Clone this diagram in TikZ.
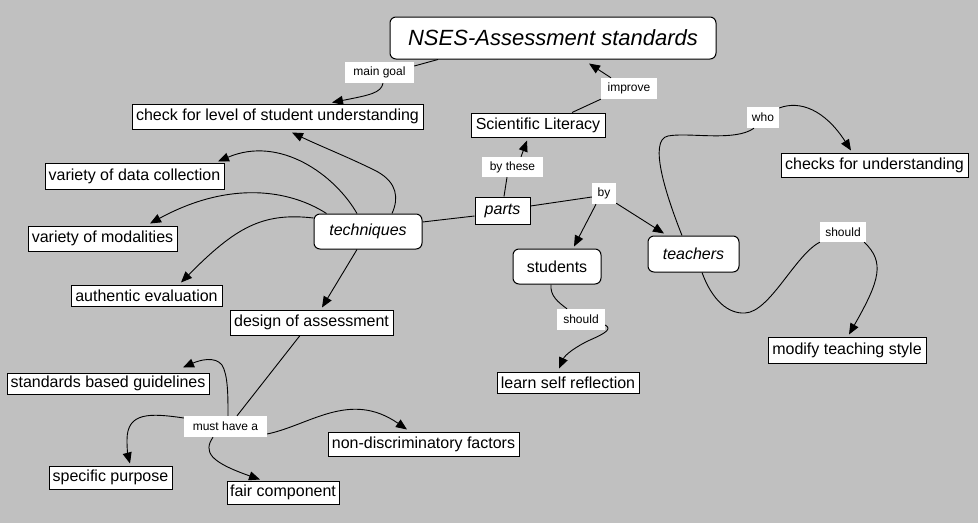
\documentclass[tikz,border=0pt]{standalone}
\usepackage{fontspec}
\setmainfont{Liberation Sans}
\usetikzlibrary{arrows.meta,calc}
\definecolor{bg}{HTML}{C0C0C0}
\begin{document}
\begin{tikzpicture}[x=1pt,y=-1pt,
  box/.style={draw=black, fill=white, line width=1pt, inner sep=0pt, font=\fontsize{16}{19}\selectfont},
  rbox/.style={box, rounded corners=6pt},
  ibox/.style={font=\fontsize{16}{19}\selectfont\itshape},
  lbl/.style={fill=white, inner sep=0pt, font=\fontsize{12}{14}\selectfont},
  link/.style={line width=0.9pt, draw=black},
  arr/.style={link, -{Triangle[length=11pt,width=9pt]}}]
\fill[bg] (0,0) rectangle (978,523);
\useasboundingbox (0,0) rectangle (978,523);
% concepts
\node[rbox, font=\fontsize{22}{26}\selectfont\itshape, minimum width=326pt, minimum height=42pt] (nses) at (553,38) {NSES-Assessment standards};
\node[box, minimum width=291pt, minimum height=25pt] (check) at (277.5,116.5) {check for level of student understanding};
\node[box, minimum width=134pt, minimum height=24pt] (sci) at (538,125) {Scientific Literacy};
\node[box, ibox, minimum width=55pt, minimum height=27pt] (parts) at (502.5,210.5) {parts};
\node[rbox, ibox, minimum width=108pt, minimum height=35pt] (tech) at (368,231.5) {techniques};
\node[rbox, minimum width=88pt, minimum height=35pt] (students) at (557,266.5) {students};
\node[rbox, ibox, minimum width=91pt, minimum height=36pt] (teachers) at (693.5,254) {teachers};
\node[box, minimum width=142pt, minimum height=21pt] (learn) at (568,382.5) {learn self reflection};
\node[box, minimum width=187pt, minimum height=24pt] (checks) at (874.5,165) {checks for understanding};
\node[box, minimum width=158pt, minimum height=26pt] (modify) at (847,350) {modify teaching style};
\node[box, minimum width=179pt, minimum height=26pt] (vdata) at (134.5,176) {variety of data collection};
\node[box, minimum width=149pt, minimum height=25pt] (vmod) at (102.5,238.5) {variety of modalities};
\node[box, minimum width=151pt, minimum height=21pt] (auth) at (146.5,295.5) {authentic evaluation};
\node[box, minimum width=163pt, minimum height=25pt] (design) at (311.5,322.5) {design of assessment};
\node[box, minimum width=202pt, minimum height=21pt] (stdg) at (108,383.5) {standards based guidelines};
\node[box, minimum width=123pt, minimum height=23pt] (specific) at (110.5,477.5) {specific purpose};
\node[box, minimum width=112pt, minimum height=23pt] (fair) at (283,492.5) {fair component};
\node[box, minimum width=191pt, minimum height=24pt] (nondisc) at (423.5,444) {non-discriminatory factors};
% labels
\node[lbl, minimum width=69pt, minimum height=21pt] (maingoal) at (379.5,72.5) {main goal};
\node[lbl, minimum width=56pt, minimum height=21pt] (improve) at (629,88.5) {improve};
\node[lbl, minimum width=61pt, minimum height=20pt] (bythese) at (512.5,167) {by these};
\node[lbl, minimum width=24pt, minimum height=21pt] (by) at (604,193.5) {by};
\node[lbl, minimum width=48pt, minimum height=21pt] (should1) at (581,319.5) {should};
\node[lbl, minimum width=32pt, minimum height=21pt] (who) at (763,117.5) {who};
\node[lbl, minimum width=46pt, minimum height=20pt] (should2) at (843,232) {should};
\node[lbl, minimum width=83pt, minimum height=21pt] (musthave) at (225.5,426.5) {must have a};
% connectors
\draw[link] ($(nses.south)+(-115,0)$) -- ($(maingoal.east)+(0,-6.5)$);
\draw[arr] ($(maingoal.south)+(3.5,0)$) .. controls (381,93) and (370,95) .. ($(check.north)+(54.5,-1)$);
\draw[link] ($(sci.north)+(34,0)$) -- (improve.south west);
\draw[arr] ($(improve.north)+(-18,0)$) -- ($(nses.south)+(36,4)$);
\draw[link] ($(parts.north)+(1.5,0)$) -- ($(bythese.south)+(-5.5,0)$);
\draw[arr] ($(bythese.north)+(8.5,0)$) -- ($(sci.south)+(-11,3)$);
\draw[link] ($(tech.east)+(0,-9.5)$) -- ($(parts.west)+(0,5.5)$);
\draw[link] ($(parts.east)+(0,-4.5)$) -- ($(by.west)+(0,3.5)$);
\draw[arr] ($(by.south)+(-8,0)$) -- ($(students.north)+(17,-2)$);
\draw[arr] ($(by.south east)+(0,-1)$) -- ($(teachers.north)+(-29.5,-2)$);
\draw[link] ($(students.south)+(-6,0)$) .. controls (550,296) and (558,302) .. ($(should1.north)+(-14,0)$);
\draw[arr] ($(should1.east)+(0,5.5)$) .. controls (612,329) and (606,333) .. (590,340) .. controls (575,347) and (565,355) .. ($(learn.north)+(-9,-3)$);
\draw[link] ($(teachers.north)+(-11.5,0)$) .. controls (666,195) and (648,140) .. (668,136) .. controls (688,132) and (735,142) .. ($(who.south)+(-9,0)$);
\draw[arr] ($(who.east)+(0,-9.5)$) .. controls (800,100) and (825,110) .. ($(checks.north)+(-23.5,-2)$);
\draw[link] ($(teachers.south)+(8.5,0)$) .. controls (712,300) and (728,314) .. (745,313) .. controls (770,312) and (795,255) .. (should2.south west);
\draw[arr] ($(should2.south east)+(-2,0)$) .. controls (885,262) and (880,280) .. ($(modify.north)+(2,-2)$);
\draw[arr] ($(tech.north)+(24,0)$) .. controls (399,198) and (397,183) .. (378,172) .. controls (355,160) and (320,146) .. ($(check.south)+(14.5,3)$);
\draw[arr] ($(tech.north)+(-11,0)$) .. controls (335,175) and (280,135) .. ($(vdata.north)+(83.5,-1)$);
\draw[arr] ($(tech.north west)+(13,0)$) .. controls (290,190) and (230,180) .. ($(vmod.north)+(47.5,-2)$);
\draw[arr] ($(tech.west)+(0,-13.5)$) .. controls (262,212) and (235,228) .. ($(auth.north)+(34.5,-2)$);
\draw[arr] ($(tech.south)+(-11,0)$) -- ($(design.north)+(10.5,-2)$);
\draw[link] ($(design.south)+(-11.5,0)$) -- ($(musthave.north)+(11.5,0)$);
\draw[arr] ($(musthave.north)+(2.5,0)$) .. controls (228,395) and (228,375) .. (222,365) .. controls (215,356) and (200,360) .. ($(stdg.north)+(75,-5)$);
\draw[arr] ($(musthave.west)+(0,-8.5)$) .. controls (150,413) and (127,412) .. (127,440) .. controls (127,450) and (128,456) .. ($(specific.north)+(19.5,-2)$);
\draw[arr] ($(musthave.south)+(-12.5,0)$) .. controls (203,452) and (210,462) .. ($(fair.north)+(-23,-1)$);
\draw[arr] ($(musthave.east)+(0,7.5)$) .. controls (310,425) and (350,390) .. ($(nondisc.north)+(-16.5,-2)$);
\end{tikzpicture}
\end{document}
